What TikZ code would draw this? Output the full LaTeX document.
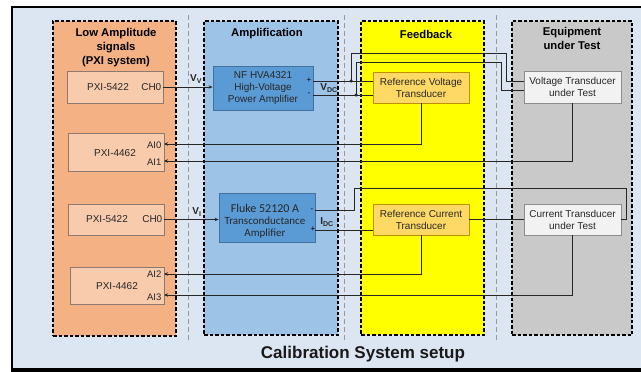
\documentclass[tikz,border=0pt]{standalone}
\usepackage{fontspec}
\setmainfont{Liberation Sans}
\newfontfamily\calfont{Carlito}
\usetikzlibrary{arrows.meta}
\definecolor{bgblue}{HTML}{DCE6F2}
\definecolor{colorange}{HTML}{F4B183}
\definecolor{boxorange}{HTML}{F8CBAD}
\definecolor{bordorange}{HTML}{8C7A70}
\definecolor{colblue}{HTML}{9DC3E6}
\definecolor{boxblue}{HTML}{5B9BD5}
\definecolor{bordblue}{HTML}{41719C}
\definecolor{colyellow}{HTML}{FFFF00}
\definecolor{boxgold}{HTML}{FFD966}
\definecolor{bordgold}{HTML}{BF9000}
\definecolor{colgrey}{HTML}{C9C9C9}
\definecolor{boxwhite}{HTML}{F2F2F2}
\definecolor{bordgrey}{HTML}{8C8C8C}
\definecolor{wirec}{HTML}{262626}
\begin{document}
\begin{tikzpicture}[x=1pt,y=-1pt,
 col/.style={draw=black, line width=1.3pt, dash pattern=on 3.5pt off 2pt, inner sep=0pt},
 sepline/.style={draw=black!40, line width=0.6pt, dash pattern=on 5pt off 3pt},
 box/.style={draw, line width=0.8pt, inner sep=0pt, align=center, font=\fontsize{10}{12}\selectfont, text=black!85},
 ttl/.style={font=\fontsize{11.3}{14}\selectfont\bfseries, align=center},
 wire/.style={draw=wirec, line width=0.8pt},
 arr/.style={wire, -{Stealth[length=4pt,width=3.5pt]}},
 lbl/.style={font=\fontsize{9.5}{10}\selectfont, inner sep=0.5pt, text=black!85},
 sig/.style={font=\fontsize{10}{10}\selectfont\bfseries, inner sep=0.5pt, text=black!85},
 pm/.style={font=\fontsize{8}{8}\selectfont, inner sep=0pt},
 dot/.style={circle, fill=wirec, inner sep=0pt, minimum size=3.5pt},
]
\useasboundingbox (0,0) rectangle (641,372);
\fill[white] (0,0) rectangle (641,372);
\fill[bgblue] (12,7) rectangle (641,369);
\draw[line width=2pt] (641,7) -- (12,7) -- (12,369);
\draw[line width=4pt] (11,370) -- (641,370);

% separators
\draw[sepline] (188,15) -- (188,340);
\draw[sepline] (344,15) -- (344,340);
\draw[sepline] (496,15) -- (496,340);

% columns
\node[col, fill=colorange, minimum width=123pt, minimum height=315pt] (c1) at (114.5,178.5) {};
\node[col, fill=colblue, minimum width=134pt, minimum height=314pt] (c2) at (271,178) {};
\node[col, fill=colyellow, minimum width=123pt, minimum height=314pt] (c3) at (422.5,178) {};
\node[col, fill=colgrey, minimum width=120pt, minimum height=314pt] (c4) at (572,178) {};

% titles
\node[ttl] (t1) at (116,48) {Low Amplitude\\signals\\(PXI system)};
\node[ttl] (t2) at (267,34) {Amplification};
\node[ttl] (t3) at (426,34) {Feedback};
\node[ttl] (t4) at (572,38.5) {Equipment\\under Test};
\node[font=\fontsize{17}{20}\selectfont\bfseries, text=black!90] (tmain) at (363,354) {Calibration System setup};

% PXI boxes
\node[box, draw=bordorange, fill=boxorange, minimum width=96pt, minimum height=32pt] (p1) at (115,87) {};
\node[box, draw=bordorange, fill=boxorange, minimum width=96pt, minimum height=38pt] (p2) at (116,152) {};
\node[box, draw=bordorange, fill=boxorange, minimum width=96pt, minimum height=31pt] (p3) at (116,219.5) {};
\node[box, draw=bordorange, fill=boxorange, minimum width=94pt, minimum height=37pt] (p4) at (117,285.5) {};
\node[box, draw=none, fill=none] (p1t) at (108,87) {PXI-5422};
\node[box, draw=none, fill=none] (p2t) at (115,153) {PXI-4462};
\node[box, draw=none, fill=none] (p3t) at (107,219) {PXI-5422};
\node[box, draw=none, fill=none] (p4t) at (117,286) {PXI-4462};
\node[lbl, anchor=east, font=\fontsize{10}{10}\selectfont] (ch0a) at (162,87) {CH0};
\node[lbl, anchor=east, font=\fontsize{10}{10}\selectfont] (ch0b) at (163,219) {CH0};

\coordinate (ai0) at (164,144);
\coordinate (ai1) at (164,161);
\coordinate (ai2) at (164,274);
\coordinate (ai3) at (164,295);
\node[lbl, anchor=east] (ai0t) at (162,145) {AI0};
\node[lbl, anchor=east] (ai1t) at (162,162) {AI1};
\node[lbl, anchor=east] (ai2t) at (162,274) {AI2};
\node[lbl, anchor=east] (ai3t) at (162,297) {AI3};

% amplifiers
\node[box, draw=bordblue, fill=boxblue, minimum width=100pt, minimum height=44pt, font=\fontsize{10}{12}\selectfont] (nf) at (263,88) {NF HVA4321\\High-Voltage\\Power Amplifier};
\node[box, draw=bordblue, fill=boxblue, minimum width=96pt, minimum height=49pt] (fl) at (267,217.5) {};
\node[font=\calfont\fontsize{12}{12}\selectfont, inner sep=0pt, text=black!85] (flt1) at (265,208) {Fluke 52120 A};
\node[font=\calfont\fontsize{11}{12}\selectfont, inner sep=0pt, align=center, text=black!85] (flt2) at (265,228) {Transconductance\\Amplifier};
\node[pm] (nfplus) at (309,80) {+};
\node[pm] (nfminus) at (309,94) {-};
\node[pm] (flminus) at (312,210) {-};
\node[pm] (flplus) at (313,229) {+};

% feedback & EUT
\node[box, draw=bordgold, fill=boxgold, minimum width=96pt, minimum height=31pt] (rv) at (421,87.5) {Reference Voltage\\Transducer};
\node[box, draw=bordgrey, fill=boxwhite, minimum width=97pt, minimum height=32pt] (vt) at (572.5,87) {Voltage Transducer\\under Test};
\node[box, draw=bordgold, fill=boxgold, minimum width=96pt, minimum height=31pt] (ri) at (421,219.5) {Reference Current\\Transducer};
\node[box, draw=bordgrey, fill=boxwhite, minimum width=97pt, minimum height=31pt] (ct) at (572.5,219.5) {Current Transducer\\under Test};

% signal labels
\node[sig] (vv) at (196,79) {V\textsubscript{V}};
\node[sig] (vdc) at (329,88) {V\textsubscript{DC}};
\node[sig] (vi) at (197,212) {V\textsubscript{I}};
\node[sig] (idc) at (327,222) {I\textsubscript{DC}};

% coordinates for wiring
\coordinate (nfp) at (313,81);
\coordinate (nfm) at (313,95);
\coordinate (j1) at (351,81);
\coordinate (j2) at (356,95);
\coordinate (k1) at (506,53);
\coordinate (k2) at (501,62);
\coordinate (vtp) at (524,81);
\coordinate (vtm) at (524,90);
\coordinate (flm) at (315,210);
\coordinate (flp) at (315,230);
\coordinate (m1) at (354,188);
\coordinate (m2) at (626,219.5);

% connectors
\draw[arr] (p1.east) -- (p1.east -| nf.west);
\draw[arr] (p3.east) -- (p3.east -| fl.west);
\draw[wire] (nfp) -- (nfp -| rv.west);
\draw[wire] (nfm) -- (nfm -| rv.west);
\draw[wire] (j1) |- (k1) |- (vtp);
\draw[wire] (j2) |- (k2) |- (vtm);
\node[dot] (d1) at (j1) {};
\node[dot] (d2) at (j2) {};
\draw[arr] (rv.south) |- (ai0);
\draw[arr] (vt.south) |- (ai1);
\draw[wire] (flm) -| (m1) -| (m2) -- (ct.east);
\draw[wire] (flp) -- (flp -| ri.west);
\draw[wire] (ri.east) -- (ct.west);
\draw[arr] (ri.south) |- (ai2);
\draw[arr] (ct.south) |- (ai3);
\end{tikzpicture}
\end{document}
